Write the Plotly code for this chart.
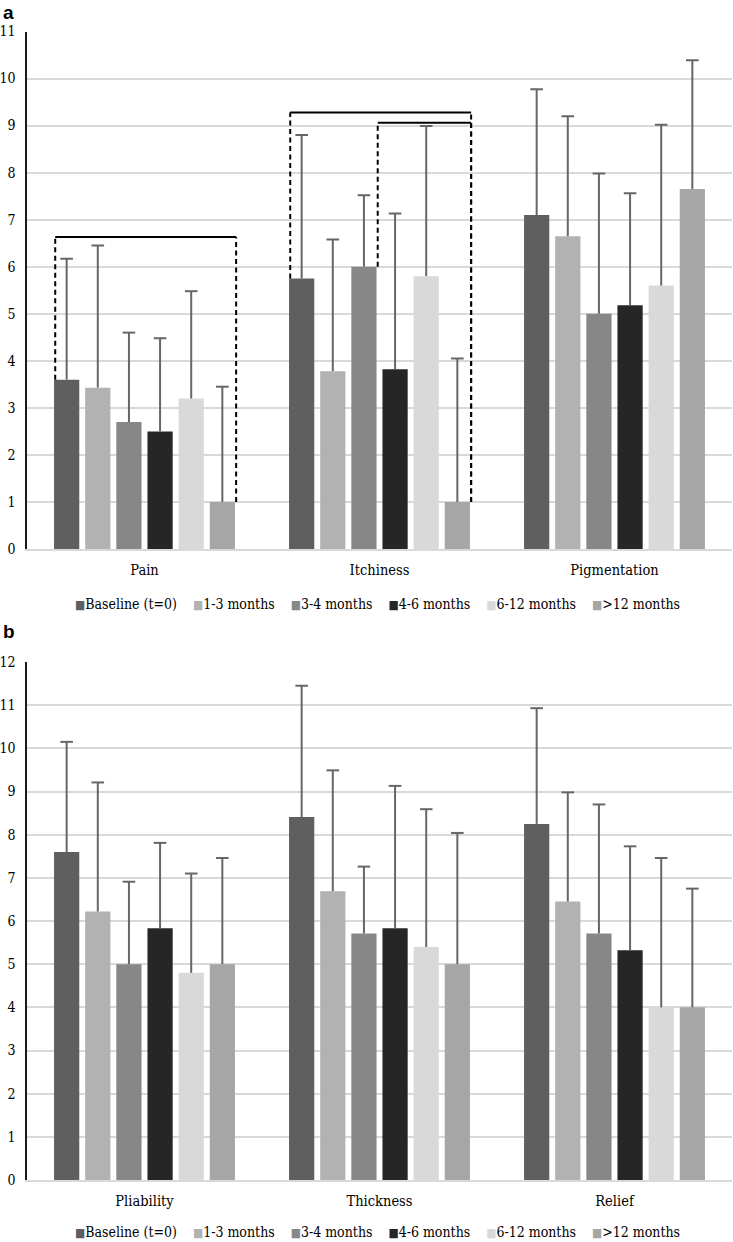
import plotly.graph_objects as go
from plotly.subplots import make_subplots

# ---------------- data ----------------
series = ["Baseline (t=0)", "1-3 months", "3-4 months", "4-6 months", "6-12 months", ">12 months"]
colors = ["#5f5f5f", "#b2b2b2", "#878787", "#262626", "#d9d9d9", "#a6a6a6"]

cats_a = ["Pain", "Itchiness", "Pigmentation"]
pain_mean = [3.6, 3.43, 2.7, 2.5, 3.2, 1.0]
pain_sd = [2.57, 3.02, 1.9, 1.98, 2.28, 2.45]
itch_mean = [5.75, 3.78, 6.0, 3.82, 5.8, 1.0]
itch_sd = [3.05, 2.8, 1.52, 3.31, 3.19, 3.05]
pigm_mean = [7.1, 6.65, 5.0, 5.18, 5.6, 7.65]
pigm_sd = [2.67, 2.55, 2.98, 2.38, 3.42, 2.74]

cats_b = ["Pliability", "Thickness", "Relief"]
plia_mean = [7.6, 6.22, 5.0, 5.83, 4.8, 5.0]
plia_sd = [2.55, 2.99, 1.91, 1.98, 2.3, 2.46]
thick_mean = [8.41, 6.69, 5.71, 5.83, 5.4, 5.0]
thick_sd = [3.04, 2.8, 1.55, 3.3, 3.19, 3.04]
relief_mean = [8.25, 6.45, 5.71, 5.32, 4.0, 4.0]
relief_sd = [2.68, 2.53, 2.99, 2.41, 3.46, 2.75]

ticks_a = list(range(0, 12))
ticks_b = list(range(0, 13))

# significance brackets on panel a: (category, left bar, left side, right bar, height)
brackets_a = [
    (0, 0, "left", 5, 6.63),
    (1, 0, "left", 5, 9.28),
    (1, 2, "right", 5, 9.06),
]

# ---------------- figure ----------------
W, H = 733, 1242
BG, BGG = 0.205, 0.19
NS = len(series)
ERR_COLOR = "#666666"
SERIF = "DejaVu Serif Condensed"

fig = make_subplots(rows=2, cols=1)

means_a = [pain_mean, itch_mean, pigm_mean]
sds_a = [pain_sd, itch_sd, pigm_sd]
means_b = [plia_mean, thick_mean, relief_mean]
sds_b = [plia_sd, thick_sd, relief_sd]


def bar_center(cat, j):
    grp = 1 - BG
    slot = grp / NS
    return cat - grp / 2 + slot * (j + 0.5)


def bar_half():
    return (1 - BG) / NS * (1 - BGG) / 2


for row, cats, means, sds in [(1, cats_a, means_a, sds_a), (2, cats_b, means_b, sds_b)]:
    pos = list(range(len(cats)))
    for j, (name, col) in enumerate(zip(series, colors)):
        fig.add_trace(go.Bar(x=pos, y=[m[j] for m in means], name=name,
                             marker=dict(color=col, line=dict(width=0)), showlegend=False), row=row, col=1)
    # upper-only error bars (stem + cap at the top)
    for j in range(NS):
        xs, ys, cx, cy = [], [], [], []
        for c in pos:
            xc = bar_center(c, j)
            top = means[c][j] + sds[c][j]
            xs += [xc, xc, None]
            ys += [means[c][j], top, None]
            cx.append(xc)
            cy.append(top)
        fig.add_trace(go.Scatter(x=xs, y=ys, mode="lines", line=dict(color=ERR_COLOR, width=2),
                                 showlegend=False, hoverinfo="skip"), row=row, col=1)
        fig.add_trace(go.Scatter(x=cx, y=cy, mode="markers",
                                 marker=dict(symbol="line-ew", size=9, line=dict(color=ERR_COLOR, width=2)),
                                 showlegend=False, hoverinfo="skip"), row=row, col=1)


def bar_edge(cat, j, side):
    c = bar_center(cat, j)
    h = bar_half()
    return (c - h if side == "left" else c + h) + 0.005


for cat, jl, side, jr, h in brackets_a:
    xl = bar_edge(cat, jl, side)
    xr = bar_edge(cat, jr, "right")
    dash_style = dict(color="black", width=2, dash="5px,3.5px")
    fig.add_shape(type="line", xref="x", yref="y", x0=xl, x1=xl, y0=means_a[cat][jl], y1=h, line=dash_style)
    fig.add_shape(type="line", xref="x", yref="y", x0=xr, x1=xr, y0=means_a[cat][jr], y1=h, line=dash_style)
    fig.add_shape(type="line", xref="x", yref="y", x0=xl, x1=xr, y0=h, y1=h, line=dict(color="black", width=2))


def py(px):
    return 1 - px / H


xdom = [27 / W, 732 / W]
axis_common_x = dict(domain=xdom, range=[-0.5, 2.5], showline=True, linecolor="#d9d9d9", linewidth=1.5,
                     showgrid=False, zeroline=False, ticks="", ticklabelstandoff=7, automargin=False,
                     tickvals=[0, 1, 2], tickfont=dict(family=SERIF, size=14.5, color="black"))
axis_common_y = dict(showline=True, linecolor="#1a1a1a", linewidth=1.5, showgrid=True, gridcolor="#d9d9d9",
                     gridwidth=1.5, zeroline=False, ticks="", ticklabelstandoff=7, automargin=False,
                     tickfont=dict(family=SERIF, size=14, color="black"))

fig.update_layout(
    width=W, height=H, margin=dict(l=0, r=0, t=0, b=0),
    paper_bgcolor="white", plot_bgcolor="white", template="none",
    barmode="group", bargap=BG, bargroupgap=BGG, showlegend=False,
    xaxis=dict(**axis_common_x, anchor="y", ticktext=cats_a),
    xaxis2=dict(**axis_common_x, anchor="y2", ticktext=cats_b),
    yaxis=dict(**axis_common_y, domain=[py(549), py(31.5)], range=[0, 11], tickvals=ticks_a, anchor="x"),
    yaxis2=dict(**axis_common_y, domain=[py(1180), py(662)], range=[0, 12], tickvals=ticks_b, anchor="x2"),
)

# panel letters
for letter, ypx in (("a", 0), ("b", 619)):
    fig.add_annotation(text=f"<b>{letter}</b>", x=1 / W, y=py(ypx), xref="paper", yref="paper",
                       xanchor="left", yanchor="top", showarrow=False,
                       font=dict(family="Liberation Sans", size=19, color="black"))


# legends (one per panel)
def esc(s):
    return s.replace("&", "&amp;").replace("<", "&lt;").replace(">", "&gt;")


legend_text = ("\u00a0" * 4).join(
    f"<span style='color:{c};font-size:12px'>\u25a0</span>{esc(n)}" for n, c in zip(series, colors)
)
for ypx in (604, 1232):
    fig.add_annotation(text=legend_text, x=377 / W, y=py(ypx), xref="paper", yref="paper",
                       xanchor="center", yanchor="middle", showarrow=False,
                       font=dict(family=SERIF, size=14, color="black"))

fig.write_html(
    "out.html",
    config={"displayModeBar": False},
    post_script="document.body.style.margin='0';document.body.style.padding='0';document.body.style.overflow='hidden';",
)
